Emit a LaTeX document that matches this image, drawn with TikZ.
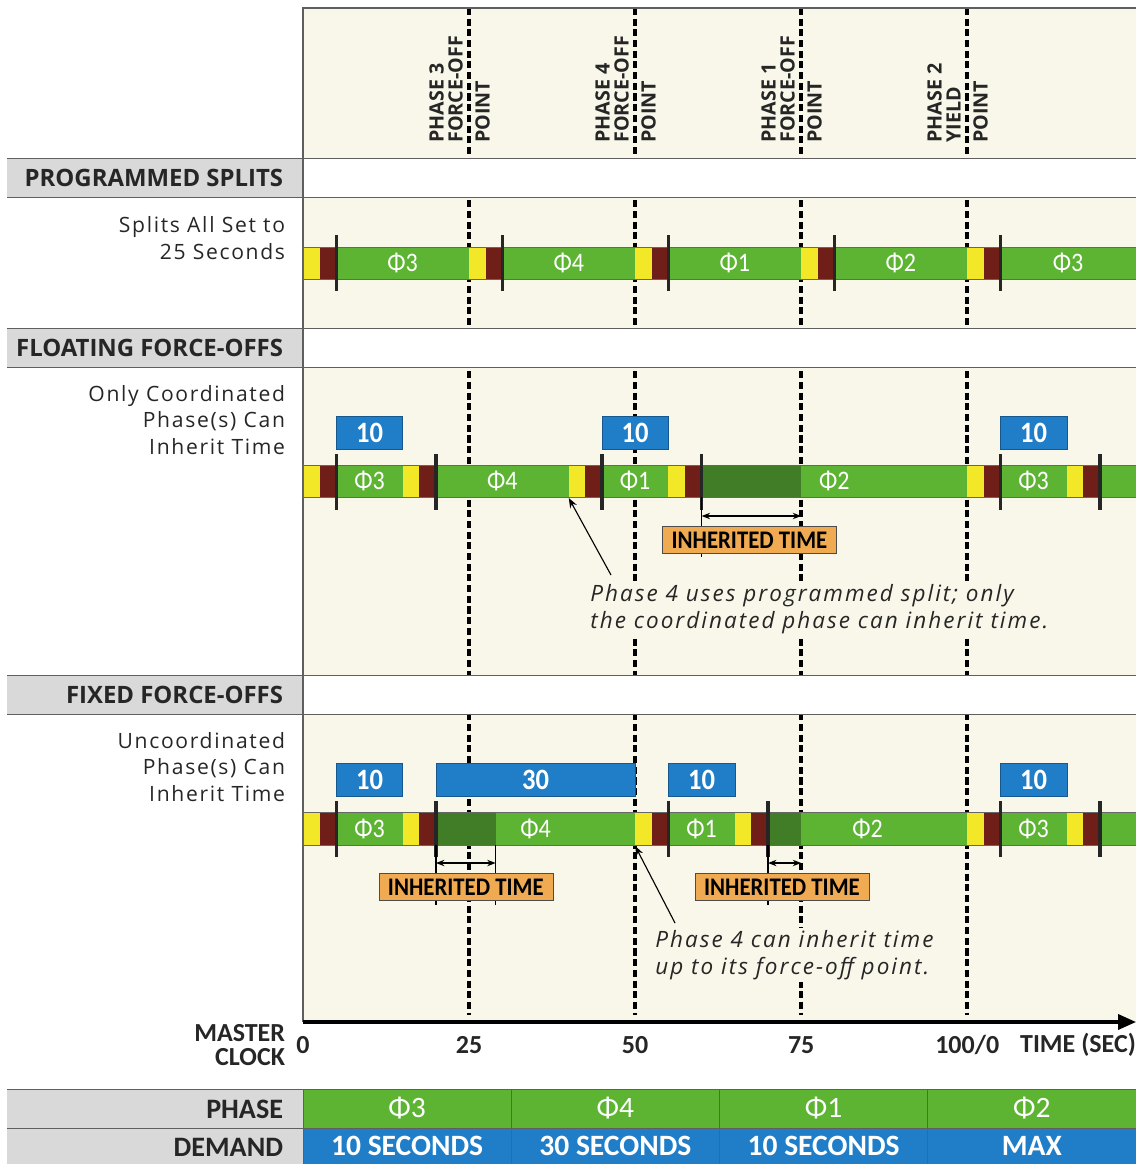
\documentclass[tikz,border=0pt]{standalone}
\usepackage{fontspec}
\setmainfont{Open Sans}
\newfontfamily\condfont{Carlito}[FakeStretch=0.9]
\newfontfamily\cellfont{Carlito}
\newfontfamily\descfont{Open Sans}[LetterSpace=8]
\usetikzlibrary{arrows.meta}

\definecolor{cream}{RGB}{249,247,233}
\definecolor{bandgray}{RGB}{217,217,217}
\definecolor{rulegray}{RGB}{95,95,95}
\definecolor{phgreen}{RGB}{92,180,50}
\definecolor{inhgreen}{RGB}{64,125,38}
\definecolor{clryellow}{RGB}{242,232,40}
\definecolor{clrred}{RGB}{112,30,24}
\definecolor{dmdblue}{RGB}{32,126,200}
\definecolor{inhorange}{RGB}{240,170,82}

\begin{document}
\begin{tikzpicture}[x=0.025cm,y=-0.025cm,
  fo/.style={line width=2.8pt,dash pattern=on 5pt off 2.6pt},
  sepline/.style={line width=2.5pt,black!85},
  phi/.style={text=white,font=\condfont\fontsize{19}{19}\selectfont},
  dmd/.style={fill=dmdblue,draw=dmdblue!70!black,text=white,inner sep=0pt,
    minimum height=0.82cm,font=\condfont\bfseries\fontsize{21}{21}\selectfont},
  inh/.style={fill=inhorange,draw=black!70,inner sep=0pt,minimum width=4.35cm,
    minimum height=0.68cm,font=\condfont\bfseries\fontsize{18}{18}\selectfont},
  hdr/.style={anchor=east,text=black!85,font=\bfseries\fontsize{17}{17}\selectfont},
  desc/.style={anchor=east,align=right,text=black!85,font=\descfont\fontsize{15}{19}\selectfont},
  fotext/.style={rotate=90,align=left,inner sep=0pt,text=black!85,
    font=\bfseries\fontsize{14}{13.5}\selectfont},
  note/.style={anchor=north west,align=left,inner sep=1.5pt,fill=cream,text=black!85,
    font=\itshape\fontsize{16}{19}\selectfont\addfontfeature{LetterSpace=9}},
  axlbl/.style={text=black!85,font=\cellfont\bfseries\fontsize{18.5}{18.5}\selectfont},
  inhar/.style={{Stealth[length=6pt]}-{Stealth[length=6pt]},line width=1.3pt},
  tickln/.style={line width=0.9pt}]
  \useasboundingbox (0,0) rectangle (1136,1164);
  \fill[cream] (303,8) rectangle (1136,1022);

  % force-off points
  \begin{scope}[x=0.166cm,xshift=7.575cm]
    \foreach \t in {25,50,75,100} \draw[fo] (\t,8) -- (\t,1015);
  \end{scope}

  % section bands
  \foreach \y/\txt/\nm in {158/PROGRAMMED SPLITS/hdA,328/FLOATING FORCE-OFFS/hdB,675/FIXED FORCE-OFFS/hdC}{
    \fill[white] (303,\y) rectangle (1136,\y+39);
    \fill[bandgray] (7,\y) rectangle (303,\y+39);
    \draw[rulegray] (7,\y) -- (1136,\y) (7,\y+39) -- (1136,\y+39);
    \node[hdr] (\nm) at (288,\y+20) {\txt};
  }
  \draw[rulegray,line width=0.8pt] (303,1022) -- (303,8) -- (1136,8);

  \node[desc] (dsA) at (290,238) {Splits All Set to\\25 Seconds};
  \node[desc] (dsB) at (290,420) {Only Coordinated\\Phase(s) Can\\Inherit Time};
  \node[desc] (dsC) at (290,767) {Uncoordinated\\Phase(s) Can\\Inherit Time};

  \foreach \x/\a/\b/\nm in {469/PHASE 3/FORCE-OFF/fa,635/PHASE 4/FORCE-OFF/fb,801/PHASE 1/FORCE-OFF/fc,967/PHASE 2/YIELD/fd}{
    \node[fotext,anchor=south west] (\nm-l) at (\x-6,143) {\a\\\b};
    \node[fotext,anchor=north west] (\nm-r) at (\x+6,143) {POINT};
  }

  \begin{scope}[x=0.166cm,xshift=7.575cm]
    % programmed splits
    \foreach \a/\b/\c in {0/2.5/clryellow,2.5/5/clrred,5/25/phgreen,25/27.5/clryellow,27.5/30/clrred,30/50/phgreen,50/52.5/clryellow,52.5/55/clrred,55/75/phgreen,75/77.5/clryellow,77.5/80/clrred,80/100/phgreen,100/102.5/clryellow,102.5/105/clrred,105/125.5/phgreen}
      \fill[\c] (\a,247) rectangle (\b,279);
    \draw[black!60,line width=0.6pt] (0,247) rectangle (125.5,279);
    \foreach \s in {5,30,55,80,105} \draw[sepline] (\s,235) -- (\s,291);
    \foreach \t/\p [count=\i] in {15/3,40/4,65/1,90/2,115.2/3} \node[phi] (ps\i) at (\t,263) {Φ\p};

    % floating force-offs
    \foreach \a/\b/\c in {0/2.5/clryellow,2.5/5/clrred,5/15/phgreen,15/17.5/clryellow,17.5/20/clrred,20/40/phgreen,40/42.5/clryellow,42.5/45/clrred,45/55/phgreen,55/57.5/clryellow,57.5/60/clrred,60/75/inhgreen,75/100/phgreen,100/102.5/clryellow,102.5/105/clrred,105/115/phgreen,115/117.5/clryellow,117.5/120/clrred,120/125.5/phgreen}
      \fill[\c] (\a,465) rectangle (\b,497);
    \draw[black!60,line width=0.6pt] (0,465) rectangle (125.5,497);
    \foreach \s in {5,20,45,60,105,120} \draw[sepline] (\s,454) -- (\s,510);
    \foreach \t/\p [count=\i] in {10/3,30/4,50/1,80/2,110/3} \node[phi] (pf\i) at (\t,481) {Φ\p};
    \foreach \t [count=\i] in {10,50,110} \node[dmd,minimum width=1.66cm] (df\i) at (\t,433) {10};
    \draw[tickln] (60,497) -- (60,557);
    \coordinate (ifa) at (60,516);
    \coordinate (ifb) at (75,516);
    \draw[inhar] (ifa) -- (ifb);
    \node[inh] (ihf) at (67.2,540) {INHERITED TIME};
    \coordinate (pf) at (40,498);

    % fixed force-offs
    \foreach \a/\b/\c in {0/2.5/clryellow,2.5/5/clrred,5/15/phgreen,15/17.5/clryellow,17.5/20/clrred,20/29/inhgreen,29/50/phgreen,50/52.5/clryellow,52.5/55/clrred,55/65/phgreen,65/67.5/clryellow,67.5/70/clrred,70/75/inhgreen,75/100/phgreen,100/102.5/clryellow,102.5/105/clrred,105/115/phgreen,115/117.5/clryellow,117.5/120/clrred,120/125.5/phgreen}
      \fill[\c] (\a,812) rectangle (\b,845);
    \draw[black!60,line width=0.6pt] (0,812) rectangle (125.5,845);
    \foreach \s in {5,20,55,70,105,120} \draw[sepline] (\s,801) -- (\s,857);
    \foreach \t/\p [count=\i] in {10/3,35/4,60/1,85/2,110/3} \node[phi] (px\i) at (\t,828.5) {Φ\p};
    \node[dmd,minimum width=1.66cm] (dx1) at (10,780) {10};
    \node[dmd,minimum width=4.98cm] (dx2) at (35,780) {30};
    \node[dmd,minimum width=1.66cm] (dx3) at (60,780) {10};
    \node[dmd,minimum width=1.66cm] (dx4) at (110,780) {10};
    \foreach \t in {20,29,70} \draw[tickln] (\t,845) -- (\t,905);
    \coordinate (ixa) at (20,863);
    \coordinate (ixb) at (29,863);
    \coordinate (ixc) at (70,863);
    \coordinate (ixd) at (75,863);
    \draw[inhar] (ixa) -- (ixb);
    \draw[inhar] (ixc) -- (ixd);
    \node[inh] (ihx1) at (24.5,887) {INHERITED TIME};
    \node[inh] (ihx2) at (72.1,887) {INHERITED TIME};
    \coordinate (px) at (50,846);

    % master clock labels
    \node[axlbl] (c0) at (0,1045) {0};
    \node[axlbl] (c25) at (25,1045) {25};
    \node[axlbl] (c50) at (50,1045) {50};
    \node[axlbl] (c75) at (75,1045) {75};
    \node[axlbl] (c100) at (100,1045) {100/0};
  \end{scope}

  % notes
  \node[note] (nf) at (588,582) {Phase 4 uses programmed split; only\\the coordinated phase can inherit time.};
  \coordinate (qf) at (611,575);
  \draw[-{Stealth[length=7pt]},line width=0.8pt] (qf) -- (pf);
  \node[note] (nx) at (653,928) {Phase 4 can inherit time\\up to its force-off point.};
  \coordinate (qx) at (675,923);
  \draw[-{Stealth[length=7pt]},line width=0.8pt] (qx) -- (px);

  % time axis
  \coordinate (ax0) at (303,1022);
  \coordinate (ax1) at (1136,1022);
  \draw[line width=2.2pt,-{Triangle[length=0.45cm,width=0.38cm]}] (ax0) -- (ax1);
  \node[axlbl] (tsec) at (1078,1045) {TIME (SEC)};
  \node[axlbl,anchor=east,align=right,font=\cellfont\bfseries\fontsize{18.5}{17}\selectfont] (mclk) at (290,1045) {MASTER\\CLOCK};

  % phase / demand table
  \fill[bandgray] (7,1089) rectangle (303,1164);
  \draw[rulegray] (7,1089) -- (1136,1089) (7,1128) -- (1136,1128);
  \node[axlbl,anchor=east,font=\cellfont\bfseries\fontsize{20}{20}\selectfont] (tph) at (288,1109) {PHASE};
  \node[axlbl,anchor=east,font=\cellfont\bfseries\fontsize{20}{20}\selectfont] (tdm) at (288,1147) {DEMAND};
  \foreach \p/\d [count=\i] in {3/10 SECONDS,4/30 SECONDS,1/10 SECONDS,2/MAX}{
    \node[fill=phgreen,draw=rulegray,minimum width=5.206cm,minimum height=0.975cm,inner sep=0pt,
      text=white,font=\cellfont\fontsize{21}{21}\selectfont] (tp\i) at ({303+208.25*(\i-0.5)},1108.5) {Φ\p};
    \node[fill=dmdblue,draw=rulegray,minimum width=5.206cm,minimum height=0.9cm,inner sep=0pt,
      text=white,font=\cellfont\bfseries\fontsize{21}{21}\selectfont] (td\i) at ({303+208.25*(\i-0.5)},1146) {\d};
  }
\end{tikzpicture}
\end{document}
